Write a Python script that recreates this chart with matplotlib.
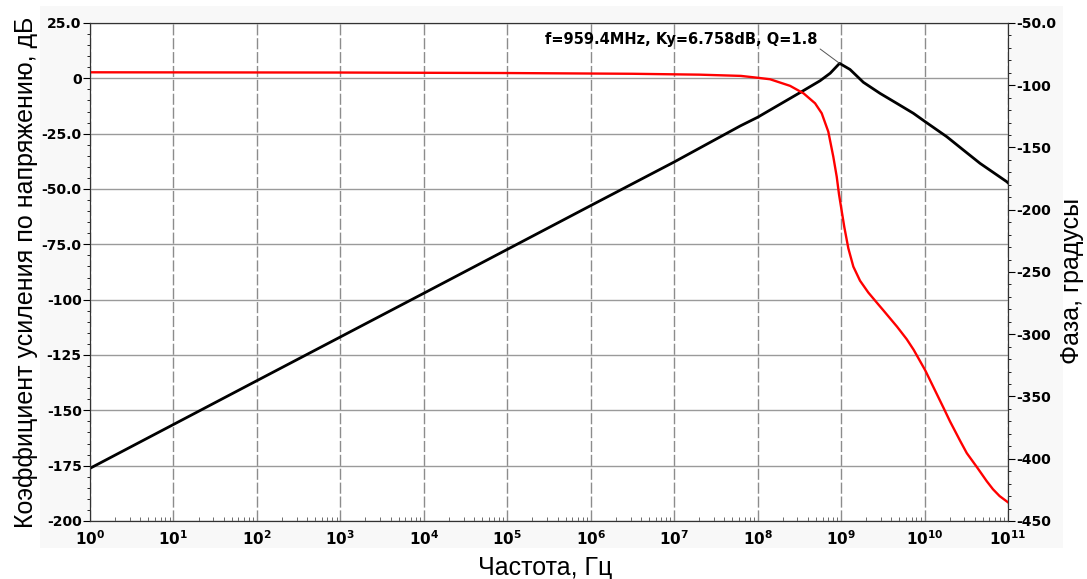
import numpy as np
import matplotlib
matplotlib.use('Agg')
import matplotlib.pyplot as plt
from matplotlib.patches import Rectangle
from matplotlib.ticker import FixedLocator, FixedFormatter, LogLocator, MultipleLocator

# gain (black, left axis), dB
gain_f = [1e0, 1e2, 1e4, 1e6, 1e7, 6.2e7, 1e8, 3.24e8, 5.6e8, 7.41e8, 9.594e8,
          1.28e9, 1.85e9, 2.93e9, 4.65e9, 7.35e9, 1.01e10, 1.85e10, 2.92e10,
          4.62e10, 9.66e10, 1e11]
gain_db = [-176.2, -136.6, -97.1, -57.5, -37.8, -21.5, -17.6, -6.4, -1.1, 2.3, 6.758,
           4.0, -1.8, -6.8, -11.3, -15.8, -19.5, -26.4, -32.4,
           -38.4, -46.7, -47.2]

# phase (red, right axis), degrees
phase_f = [1e0, 1e3, 1e5, 3.16e6, 2e7, 6.3e7, 1e8, 1.41e8, 2.45e8, 3.55e8, 4.88e8,
           5.86e8, 7.03e8, 8.07e8, 8.87e8, 9.44e8, 9.95e8, 1.094e9, 1.222e9, 1.403e9,
           1.687e9, 2.12e9, 2.79e9, 3.21e9, 4.68e9, 6.12e9, 7.41e9, 1.02e10, 1.27e10,
           1.70e10, 2.02e10, 2.69e10, 3.21e10, 4.27e10, 5.56e10, 6.61e10, 7.94e10,
           9.55e10, 1e11]
phase_deg = [-89.6, -89.8, -90.2, -90.8, -91.5, -92.5, -94.0, -95.2, -100.5, -106.5, -114.5,
             -122.5, -137.3, -157.4, -173.5, -187.5, -197.0, -214.0, -231.0, -245.7,
             -257.0, -266.5, -276.0, -280.8, -293.9, -304.0, -312.5, -329.0, -342.1,
             -359.5, -370.0, -386.0, -395.5, -407.0, -418.0, -424.5, -430.0,
             -434.0, -435.0]

peak_f = 959.4e6
peak_db = 6.758
peak_text = 'f=959.4MHz, Ky=6.758dB, Q=1.8'

x_exp = list(range(0, 12))
left_ticks = [25, 0, -25, -50, -75, -100, -125, -150, -175, -200]
left_labels = ['25.0', '0', '-25.0', '-50.0', '-75.0', '-100', '-125', '-150', '-175', '-200']
right_ticks = [-50, -100, -150, -200, -250, -300, -350, -400, -450]
right_labels = ['-50.0', '-100', '-150', '-200', '-250', '-300', '-350', '-400', '-450']

fig = plt.figure(figsize=(10.87, 5.79), dpi=100)
fig.patches.append(Rectangle((0.0368, 0.0535), 0.941, 0.936, transform=fig.transFigure,
                             facecolor='#f8f8f8', edgecolor='none', zorder=-10))
ax = fig.add_axes([0.0828, 0.1002, 0.8445, 0.8601])
ax.set_facecolor('white')

ax.plot(gain_f, gain_db, color='black', lw=2)
ax.set_xscale('log')
ax.set_xlim(1, 1e11)
ax.set_ylim(-200, 25)

ax.xaxis.set_major_locator(FixedLocator([10.0 ** e for e in x_exp]))
ax.xaxis.set_major_formatter(FixedFormatter([r'$\mathbf{10^{%d}}$' % e for e in x_exp]))
ax.xaxis.set_minor_locator(LogLocator(base=10, subs=np.arange(2, 10), numticks=100))
ax.tick_params(axis='x', which='major', direction='in', length=0, labelsize=11, pad=6)
ax.tick_params(axis='x', which='minor', direction='in', length=3, color='#555555')

ax.yaxis.set_major_locator(FixedLocator(left_ticks))
ax.yaxis.set_major_formatter(FixedFormatter(left_labels))
ax.yaxis.set_minor_locator(MultipleLocator(5))
ax.tick_params(axis='y', which='major', direction='out', length=5, labelsize=10, pad=1)
ax.tick_params(axis='y', which='minor', direction='out', length=2.5)
for lab in ax.get_yticklabels() + ax.get_xticklabels():
    lab.set_fontweight('bold')

ax.grid(True, axis='x', which='major', color='#8c8c8c', lw=1, linestyle=(0, (8, 2)))
ax.grid(True, axis='y', which='major', color='#9a9a9a', lw=1, linestyle='-')

ax.annotate(peak_text, xy=(peak_f, peak_db), xytext=(-16, 14), textcoords='offset points',
            ha='right', va='baseline', fontsize=10.5, fontweight='bold',
            arrowprops=dict(arrowstyle='-', color='#555555', lw=0.7, shrinkA=0, shrinkB=0,
                            relpos=(1, 0)))

ax2 = ax.twinx()
ax2.plot(phase_f, phase_deg, color='#ff0000', lw=1.7)
ax2.set_ylim(-450, -50)
ax2.yaxis.set_major_locator(FixedLocator(right_ticks))
ax2.yaxis.set_major_formatter(FixedFormatter(right_labels))
ax2.yaxis.set_minor_locator(MultipleLocator(10))
ax2.tick_params(axis='y', which='major', direction='out', length=5, labelsize=10, pad=1)
ax2.tick_params(axis='y', which='minor', direction='out', length=2.5)
for lab in ax2.get_yticklabels():
    lab.set_fontweight('bold')

for a in (ax, ax2):
    for s in a.spines.values():
        s.set_color('#333333')

lab_font = dict(family='Liberation Sans', fontsize=18)
fig.text(0.5014, 0.019, 'Частота, Гц', ha='center', va='center', **lab_font)
fig.text(0.024, 0.53, 'Коэффициент усиления по напряжению, дБ', rotation=90,
         ha='center', va='center', **lab_font)
fig.text(0.986, 0.515, 'Фаза, градусы', rotation=90, ha='center', va='center', **lab_font)

fig.savefig('out.png', dpi=100)
